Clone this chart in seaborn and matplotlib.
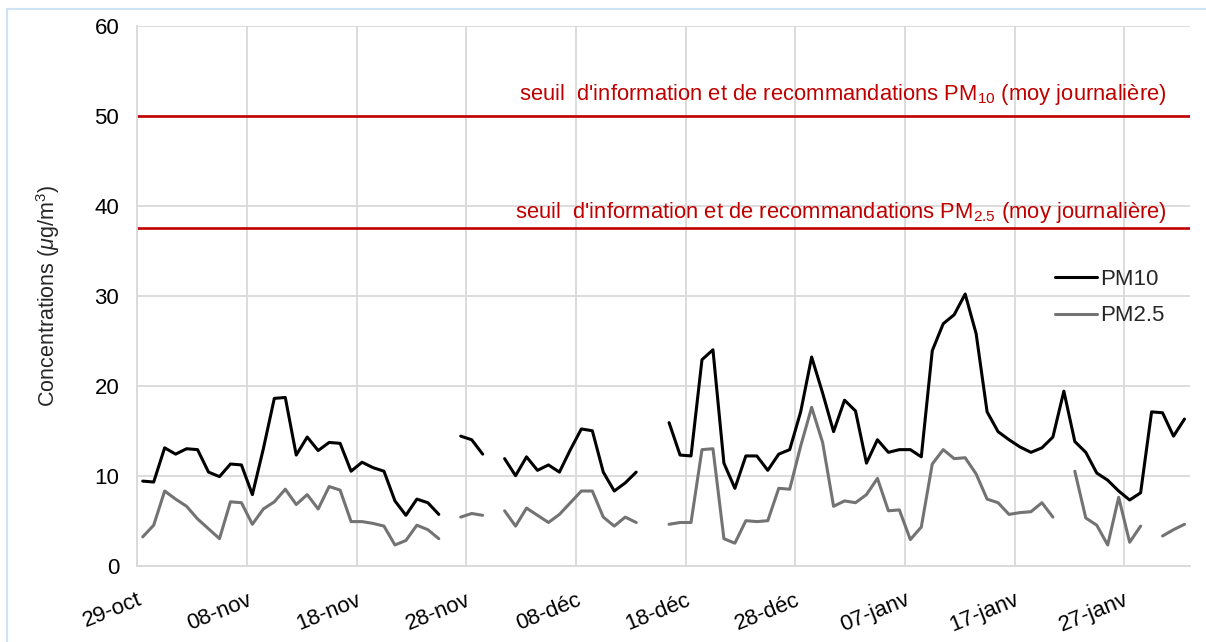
import numpy as np
import pandas as pd
import matplotlib
matplotlib.use("Agg")
import matplotlib.pyplot as plt
import matplotlib.transforms as mtransforms
import seaborn as sns
from matplotlib.lines import Line2D

# ===============================
# DATA (daily means, µg/m3)
# ===============================
START_DATE = "2018-10-29"

PM10 = [9.4, 9.3, 13.1, 12.4, 13.0, 12.9, 10.4, 9.9, 11.3, 11.2,
        7.9, 13.0, 18.6, 18.7, 12.3, 14.3, 12.8, 13.7, 13.6, 10.5,
        11.5, 10.9, 10.5, 7.2, 5.6, 7.4, 7.0, 5.7, np.nan, 14.4,
        14.0, 12.4, np.nan, 11.9, 10.0, 12.1, 10.6, 11.2, 10.4, 12.9,
        15.2, 15.0, 10.4, 8.3, 9.2, 10.4, np.nan, np.nan, 15.9, 12.3,
        12.2, 22.9, 24.0, 11.4, 8.6, 12.2, 12.2, 10.6, 12.4, 12.9,
        17.1, 23.2, 19.2, 14.9, 18.4, 17.2, 11.4, 14.0, 12.6, 12.9,
        12.9, 12.1, 23.9, 26.9, 27.9, 30.2, 25.8, 17.1, 14.9, 14.0,
        13.2, 12.6, 13.1, 14.3, 19.4, 13.8, 12.6, 10.3, 9.5, 8.3,
        7.3, 8.1, 17.1, 17.0, 14.4, 16.3]

PM25 = [3.2, 4.5, 8.3, 7.4, 6.6, 5.2, 4.1, 3.0, 7.1, 7.0,
        4.6, 6.3, 7.1, 8.5, 6.8, 7.9, 6.3, 8.8, 8.4, 4.9,
        4.9, 4.7, 4.4, 2.3, 2.8, 4.5, 4.0, 3.0, np.nan, 5.4,
        5.8, 5.6, np.nan, 6.1, 4.4, 6.4, 5.6, 4.8, 5.7, 7.0,
        8.3, 8.3, 5.4, 4.4, 5.4, 4.8, np.nan, np.nan, 4.6, 4.8,
        4.8, 12.9, 13.0, 3.0, 2.5, 5.0, 4.9, 5.0, 8.6, 8.5,
        13.3, 17.6, 13.7, 6.6, 7.2, 7.0, 7.9, 9.7, 6.1, 6.2,
        2.9, 4.3, 11.3, 12.9, 11.9, 12.0, 10.2, 7.4, 7.0, 5.7,
        5.9, 6.0, 7.0, 5.4, np.nan, 10.5, 5.3, 4.5, 2.3, 7.6,
        2.6, 4.4, np.nan, 3.3, 4.0, 4.6]

TICK_LABELS = ["29-oct", "08-nov", "18-nov", "28-nov", "08-déc",
               "18-déc", "28-déc", "07-janv", "17-janv", "27-janv"]

THRESH_PM10 = 50
THRESH_PM25 = 37.5

RED = "#c00000"
GRID = "#d9d9d9"

# ===============================
# STYLE
# ===============================
sns.set_theme(style="whitegrid")
plt.rcParams["font.family"] = ["Liberation Sans", "DejaVu Sans"]
plt.rcParams["mathtext.fontset"] = "custom"
plt.rcParams["mathtext.rm"] = "Liberation Sans"
plt.rcParams["mathtext.it"] = "Liberation Sans:italic"

df = pd.DataFrame({
    "date": pd.date_range(START_DATE, periods=len(PM10), freq="D"),
    "PM10": PM10,
    "PM2.5": PM25,
})
df["day"] = np.arange(len(df))

fig = plt.figure(figsize=(12.06, 6.42), dpi=100)
ax = fig.add_axes([0.1138, 0.1189, 0.8729, 0.8406])

# ===============================
# SERIES (broken where data missing)
# ===============================
for col, color in [("PM10", "black"), ("PM2.5", "#737373")]:
    sub = df.copy()
    sub["seg"] = sub[col].isna().cumsum()
    sub = sub[sub[col].notna()]
    sns.lineplot(data=sub, x="day", y=col, units="seg", estimator=None,
                 color=color, lw=2.2, ax=ax, legend=False)

# ===============================
# THRESHOLDS
# ===============================
ax.axhline(THRESH_PM10, color=RED, lw=1.9)
ax.axhline(THRESH_PM25, color=RED, lw=1.9)
ax.text(0.978, 51.8,
        "seuil  d'information et de recommandations PM$_{10}$ (moy journalière)",
        transform=ax.get_yaxis_transform(), ha="right", va="baseline",
        color=RED, fontsize=15.8)
ax.text(0.978, 38.6,
        "seuil  d'information et de recommandations PM$_{2.5}$ (moy journalière)",
        transform=ax.get_yaxis_transform(), ha="right", va="baseline",
        color=RED, fontsize=15.8)

# ===============================
# AXES
# ===============================
n = len(df)
ax.set_xlim(-0.5, n - 0.5)
ax.set_ylim(0, 60)
ax.set_yticks(range(0, 61, 10))
ax.set_xticks(np.arange(-0.5, n, 10))
ax.set_xticklabels(TICK_LABELS, rotation=22, ha="right", rotation_mode="anchor")
offset = mtransforms.ScaledTranslation(8 / 100, 0, fig.dpi_scale_trans)
for lbl in ax.get_xticklabels():
    lbl.set_transform(lbl.get_transform() + offset)

ax.grid(True, color=GRID, lw=1.3)
for s in ["top", "right"]:
    ax.spines[s].set_visible(False)
for s in ["left", "bottom"]:
    ax.spines[s].set_color(GRID)
    ax.spines[s].set_linewidth(1.3)
ax.tick_params(axis="both", length=0, labelsize=16, colors="black")
ax.tick_params(axis="y", pad=13)
ax.tick_params(axis="x", pad=17)

ax.set_xlabel("")
ax.set_ylabel("Concentrations ($\\mu$g/m$^3$)", fontsize=15.5)
ax.yaxis.set_label_coords(-0.0715, 0.5)

handles = [Line2D([], [], color="black", lw=2.2, label="PM10"),
           Line2D([], [], color="#737373", lw=2.2, label="PM2.5")]
ax.legend(handles=handles, loc="upper left", bbox_to_anchor=(0.872, 0.55),
          frameon=False, fontsize=16, handlelength=1.9, handletextpad=0.1,
          labelspacing=0.7, borderpad=0, borderaxespad=0)

# light blue frame of the original screenshot
fig.add_artist(Line2D([7 / 1206, 7 / 1206], [0, 1 - 9 / 642],
                      transform=fig.transFigure, color="#cfe3f5", lw=1.5))
fig.add_artist(Line2D([7 / 1206, 1], [1 - 9 / 642, 1 - 9 / 642],
                      transform=fig.transFigure, color="#cfe3f5", lw=1.5))

fig.savefig("out.png", dpi=100)
